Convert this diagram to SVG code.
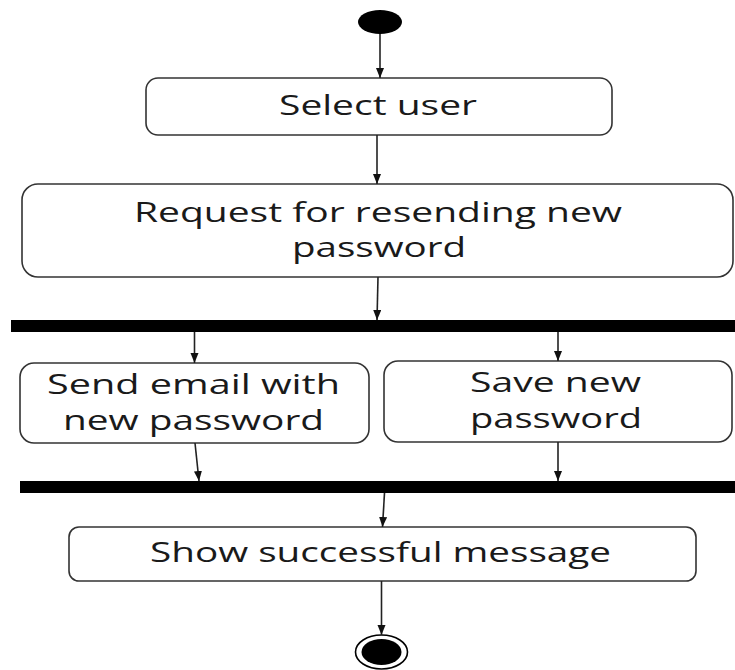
<svg xmlns="http://www.w3.org/2000/svg" width="735" height="670" viewBox="0 0 735 670">
<style>
.box{fill:#fff;stroke:#333;stroke-width:1.6}
.bar{fill:#000}
.lbl{font-family:"Open Sans","Noto Sans","DejaVu Sans",sans-serif;font-size:27px;fill:#1a1a1a;text-anchor:start}
.edge{stroke:#222;stroke-width:1.6;fill:none;marker-end:url(#arr)}
</style>
<defs>
<marker id="arr" markerUnits="userSpaceOnUse" markerWidth="10" markerHeight="10" refX="10" refY="4" orient="auto">
<path d="M0,0 L10,4 L0,8 z" fill="#111"/>
</marker>
</defs>
<rect width="735" height="670" fill="#fff"/>
<g id="start"><ellipse cx="380" cy="22" rx="22" ry="12" fill="#000"/></g>
<g id="select_user">
<rect class="box" x="146" y="78" width="466" height="57" rx="12"/>
<text class="lbl" x="279" y="114.5" textLength="198" lengthAdjust="spacingAndGlyphs">Select user</text>
</g>
<g id="request">
<rect class="box" x="22" y="184" width="711" height="93" rx="16"/>
<text class="lbl" x="134" y="222" textLength="488" lengthAdjust="spacingAndGlyphs">Request for resending new</text>
<text class="lbl" x="292" y="257" textLength="174" lengthAdjust="spacingAndGlyphs">password</text>
</g>
<g id="fork"><rect class="bar" x="11" y="320" width="724" height="12"/></g>
<g id="send_email">
<rect class="box" x="20" y="363" width="349" height="80" rx="14"/>
<text class="lbl" x="47" y="394" textLength="293" lengthAdjust="spacingAndGlyphs">Send email with</text>
<text class="lbl" x="63" y="430" textLength="261" lengthAdjust="spacingAndGlyphs">new password</text>
</g>
<g id="save_password">
<rect class="box" x="384" y="361" width="348" height="81" rx="14"/>
<text class="lbl" x="470" y="392" textLength="171" lengthAdjust="spacingAndGlyphs">Save new</text>
<text class="lbl" x="470" y="428" textLength="172" lengthAdjust="spacingAndGlyphs">password</text>
</g>
<g id="join"><rect class="bar" x="20" y="481" width="715" height="12"/></g>
<g id="show_message">
<rect class="box" x="69" y="527" width="627" height="54" rx="10"/>
<text class="lbl" x="150" y="562" textLength="461" lengthAdjust="spacingAndGlyphs">Show successful message</text>
</g>
<g id="end">
<ellipse cx="381.5" cy="652" rx="26" ry="17" fill="#fff" stroke="#000" stroke-width="1.6"/>
<ellipse cx="381.5" cy="652" rx="20" ry="13" fill="#000"/>
</g>
<g id="connectors">
<line class="edge" x1="380" y1="34" x2="380" y2="78"/>
<line class="edge" x1="377" y1="135" x2="377" y2="184"/>
<line class="edge" x1="378" y1="277" x2="377" y2="320"/>
<line class="edge" x1="194.5" y1="332" x2="194.5" y2="363"/>
<line class="edge" x1="558" y1="332" x2="558" y2="361"/>
<line class="edge" x1="195" y1="443" x2="199" y2="481"/>
<line class="edge" x1="558" y1="442" x2="558" y2="481"/>
<line class="edge" x1="384.5" y1="493" x2="382.5" y2="527"/>
<line class="edge" x1="381.5" y1="581" x2="381.5" y2="635"/>
</g>
</svg>
